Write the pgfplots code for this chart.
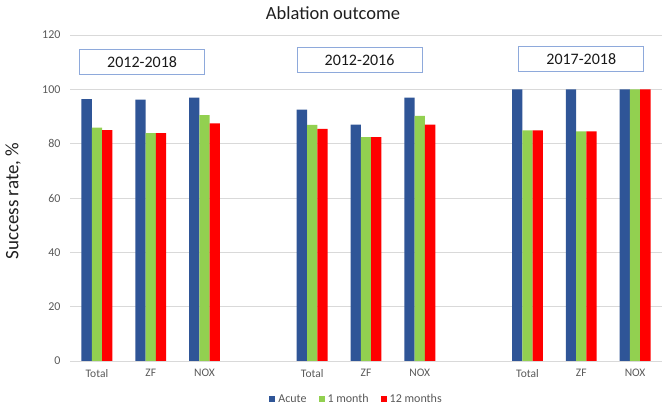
\documentclass[border=0pt]{standalone}
\usepackage{pgfplots}
\pgfplotsset{compat=1.18}
\usepackage{fontspec}
\setmainfont{Carlito}
\definecolor{cblue}{HTML}{2F5597}
\definecolor{cgreen}{HTML}{92D050}
\definecolor{cred}{HTML}{FF0000}
\definecolor{boxblue}{HTML}{8EA9DB}
\definecolor{tickgray}{HTML}{595959}
\definecolor{gridgray}{HTML}{D9D9D9}
\begin{document}
\begin{tikzpicture}[x=1pt,y=1pt]
\useasboundingbox (0,0) rectangle (667,406);
\node[font=\fontsize{18.5}{20}\selectfont, color=black!88] at (333,393) {Ablation outcome};
\node[rotate=90, font=\fontsize{19}{21}\selectfont, color=black!88] at (13,205) {Success rate, \%};
\begin{axis}[
  at={(70pt,45pt)}, anchor=south west,
  scale only axis, width=592pt, height=326pt,
  xmin=-0.5, xmax=10.5, ymin=0, ymax=120,
  ytick={0,20,40,60,80,100,120},
  xtick={0,1,2,4,5,6,8,9,10},
  xticklabels={Total,ZF,NOX,Total,ZF,NOX,Total,ZF,NOX},
  /pgf/number format/assume math mode=true,
  tick label style={color=tickgray},
  yticklabel style={font=\fontsize{12}{14}\selectfont, xshift=-6pt},
  xticklabel style={font=\fontsize{11.5}{13}\selectfont, yshift=-5pt},
  major tick length=0pt,
  ymajorgrids, grid style={gridgray, line width=0.8pt},
  axis x line*=bottom, axis y line*=left,
  y axis line style={draw=none},
  x axis line style={draw=gridgray, line width=0.8pt},
  ybar=0pt, bar width=10.3pt,
  legend style={at={(0.484,-0.117)}, anchor=center, draw=none, legend columns=3,
    font=\fontsize{12}{14}\selectfont, text=tickgray, inner sep=0pt,
    /tikz/every odd column/.append style={column sep=1pt},
    /tikz/every even column/.append style={column sep=10pt}},
  legend image code/.code={\fill[#1] (0pt,-3pt) rectangle (6pt,3pt);},
]
\addplot[fill=cblue, draw=none] coordinates {(0,96.4) (1,96.2) (2,96.9) (4,92.5) (5,87.0) (6,96.9) (8,100) (9,100) (10,100)};
\addplot[fill=cgreen, draw=none] coordinates {(0,85.9) (1,83.9) (2,90.5) (4,86.9) (5,82.4) (6,90.2) (8,84.9) (9,84.5) (10,100)};
\addplot[fill=cred, draw=none] coordinates {(0,85.0) (1,83.9) (2,87.5) (4,85.4) (5,82.4) (6,87.0) (8,84.9) (9,84.5) (10,100)};
\legend{Acute, 1 month, 12 months}
\node[draw=boxblue, line width=0.8pt, minimum width=125pt, minimum height=25pt, font=\fontsize{16}{18}\selectfont, text=black!90] at (axis cs:0.84,110.2) {2012-2018};
\node[draw=boxblue, line width=0.8pt, minimum width=125pt, minimum height=25pt, font=\fontsize{16}{18}\selectfont, text=black!90] at (axis cs:4.88,110.8) {2012-2016};
\node[draw=boxblue, line width=0.8pt, minimum width=125pt, minimum height=25pt, font=\fontsize{16}{18}\selectfont, text=black!90] at (axis cs:9.0,111.3) {2017-2018};
\end{axis}
\end{tikzpicture}
\end{document}
